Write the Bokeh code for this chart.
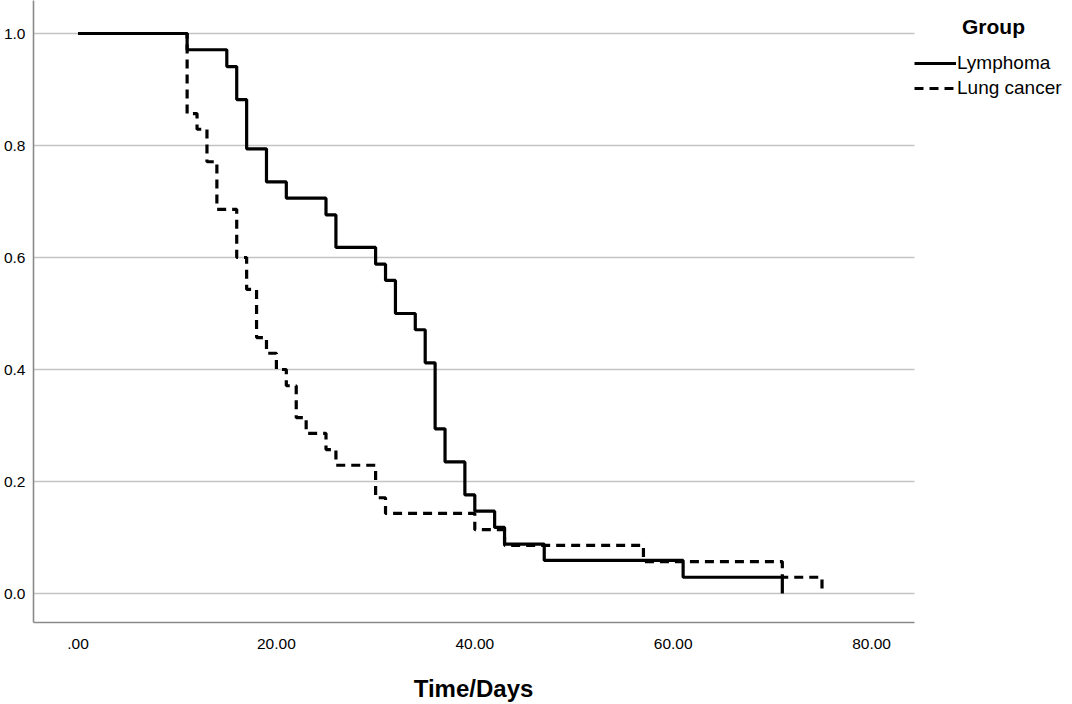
from bokeh.plotting import figure
from bokeh.models import (Range1d, FixedTicker, Legend, LegendItem, Label)
from bokeh.layouts import column
from bokeh.embed import file_html
from bokeh.resources import INLINE

# ---- data (Kaplan-Meier survival estimates) ----
lymph_days = [0, 11, 15, 16, 17, 19, 21, 25, 26, 30, 31, 32, 34, 35, 36, 37, 39, 40, 42, 43, 47, 61, 71]
lymph_surv = [1.0, 0.971, 0.941, 0.882, 0.794, 0.735, 0.706, 0.676, 0.618, 0.588, 0.559, 0.500,
              0.471, 0.412, 0.294, 0.235, 0.176, 0.147, 0.118, 0.088, 0.059, 0.029, 0.0]

lung_days = [0, 11, 12, 13, 14, 16, 17, 18, 19, 20, 21, 22, 23, 25, 26, 30, 31, 40, 43, 57, 71, 75]
lung_surv = [1.0, 0.857, 0.829, 0.771, 0.686, 0.600, 0.543, 0.457, 0.429, 0.400, 0.371, 0.314,
             0.286, 0.257, 0.229, 0.171, 0.143, 0.114, 0.086, 0.057, 0.029, 0.0]

series_names = ["Lymphoma", "Lung cancer"]
legend_title = "Group"
x_title = "Time/Days"

x_ticks = [0, 20, 40, 60, 80]
x_tick_labels = [".00", "20.00", "40.00", "60.00", "80.00"]
y_ticks = [0.0, 0.2, 0.4, 0.6, 0.8, 1.0]
y_tick_labels = ["0.0", "0.2", "0.4", "0.6", "0.8", "1.0"]

FONT = "Liberation Sans"

W = 1072
H_MAIN, H_TITLE = 656, 48
LEFT, BOTTOM = 33, 34
frame_w, frame_h = W - LEFT, H_MAIN - BOTTOM
px_day = 9.92          # pixels per day
x0_px = 77.5 - LEFT    # pixel of day 0 inside the frame
px_unit = 560.0        # pixels per survival unit
y0_px = 593.0          # pixel (from top) of survival 0

x_start = -x0_px / px_day
x_end = (frame_w - x0_px) / px_day
x_axis_end = (914 - LEFT - x0_px) / px_day
y_end = y0_px / px_unit
y_start = -(frame_h - y0_px) / px_unit

p = figure(width=W, height=H_MAIN, output_backend="svg", toolbar_location=None,
           x_range=Range1d(x_start, x_end), y_range=Range1d(y_start, y_end),
           min_border_left=LEFT, min_border_right=0, min_border_top=0, min_border_bottom=BOTTOM)
p.outline_line_color = None
p.background_fill_color = "white"
p.border_fill_color = "white"

p.xgrid.visible = False
p.ygrid.ticker = FixedTicker(ticks=y_ticks)
p.ygrid.grid_line_color = "#c4c4c4"
p.ygrid.grid_line_width = 1.3
p.ygrid.cross_bounds = (x_start, x_axis_end)

for ax in (p.xaxis[0], p.yaxis[0]):
    ax.axis_line_color = "#8a8a8a"
    ax.axis_line_width = 1.6
    ax.major_tick_line_color = None
    ax.minor_tick_line_color = None
    ax.major_tick_in = 0
    ax.major_tick_out = 0
    ax.minor_tick_in = 0
    ax.minor_tick_out = 0
    ax.major_label_text_font = FONT
    ax.major_label_text_font_size = "15.5px"
    ax.major_label_text_color = "black"

p.xaxis.bounds = (x_start, x_axis_end)
p.xaxis.ticker = FixedTicker(ticks=x_ticks)
p.xaxis.major_label_overrides = dict(zip(x_ticks, x_tick_labels))
p.xaxis.major_label_standoff = 16

p.yaxis.ticker = FixedTicker(ticks=y_ticks)
p.yaxis.major_label_overrides = dict(zip(y_ticks, y_tick_labels))
p.yaxis.major_label_standoff = 8

r_lung = p.step(lung_days, lung_surv, mode="after", line_color="black", line_width=3.2,
                line_dash="9 6")
r_lymph = p.step(lymph_days, lymph_surv, mode="after", line_color="black", line_width=3.2)

legend = Legend(items=[LegendItem(label=series_names[0], renderers=[r_lymph]),
                       LegendItem(label=series_names[1], renderers=[r_lung])],
                location=(918 - 4 - LEFT, frame_h - 48 - 51), margin=0, padding=4, spacing=3,
                glyph_width=42, glyph_height=20, label_height=20, label_standoff=1,
                label_text_font=FONT, label_text_font_size="19px", label_text_color="black",
                border_line_color=None, background_fill_alpha=0)
p.add_layout(legend, "center")

# legend heading above the legend entries
p.add_layout(Label(x=(993 - LEFT - x0_px) / px_day, y=(y0_px - 26) / px_unit,
                   text=legend_title, text_align="center", text_baseline="middle",
                   text_font=FONT, text_font_size="21px", text_font_style="bold",
                   text_color="black"))

# strip underneath carrying the x-axis title, centred under the visible axis
t = figure(width=W, height=H_TITLE, output_backend="svg", toolbar_location=None,
           x_range=Range1d(0, W), y_range=Range1d(0, H_TITLE),
           min_border_left=0, min_border_right=0, min_border_top=0, min_border_bottom=0)
t.axis.visible = False
t.grid.visible = False
t.outline_line_color = None
t.background_fill_color = "white"
t.border_fill_color = "white"
t.add_layout(Label(x=454, y=H_TITLE - (688 - H_MAIN), text=x_title,
                   text_align="center", text_baseline="middle",
                   text_font=FONT, text_font_size="24px", text_font_style="bold",
                   text_color="black"))

layout = column(p, t, spacing=0)
open("out.html", "w").write(file_html(layout, INLINE))
